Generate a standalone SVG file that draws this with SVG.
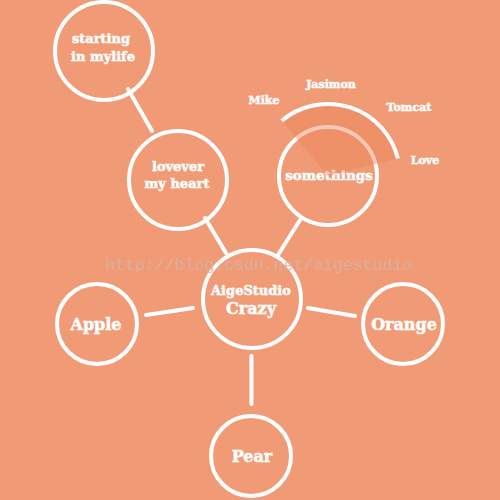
<svg xmlns="http://www.w3.org/2000/svg" width="500" height="500" viewBox="0 0 500 500">
<style>
.node{fill:none;stroke:#fff;stroke-width:4}
.lbl{fill:#fff;stroke:#fff;stroke-width:0.5;font-family:"DejaVu Serif","Liberation Serif",serif;font-weight:bold;text-anchor:middle}
.c line{stroke:#fff;stroke-width:4;stroke-linecap:round}
.small{font-size:11px}
.mid{font-size:13px}
.big{font-size:16px}
</style>
<rect width="500" height="500" fill="#F19B76"/>
<g class="c" id="connectors">
<line x1="128" y1="89" x2="152" y2="131"/>
<line x1="205" y1="218" x2="226" y2="253"/>
<line x1="300" y1="220" x2="278" y2="255"/>
<line x1="146" y1="315" x2="193" y2="308"/>
<line x1="308" y1="308" x2="355" y2="316"/>
<line x1="251.5" y1="356" x2="251.5" y2="404"/>
</g>
<g id="starting"><circle class="node" cx="104" cy="51" r="49"/><text class="lbl mid" x="101" y="43">starting</text><text class="lbl mid" x="103" y="61">in mylife</text></g>
<g id="lovever"><circle class="node" cx="178" cy="180" r="49"/><text class="lbl mid" x="178" y="171">lovever</text><text class="lbl mid" x="177" y="188">my heart</text></g>
<g id="somethings"><circle class="node" cx="328" cy="176" r="49"/><text class="lbl" style="font-size:13.5px" x="329" y="180">somethings</text></g>
<g id="arc">
<path d="M328,176 L281.7,120.8 A72,72 0 0 1 397.9,158.6 Z" fill="#EA845C" opacity="0.45"/>
<path d="M281.7,120.8 A72,72 0 0 1 397.9,158.6" fill="none" stroke="#fff" stroke-width="4"/>
<text class="lbl small" x="264" y="104">Mike</text>
<text class="lbl small" x="331" y="88">Jasimon</text>
<text class="lbl small" x="409" y="111">Tomcat</text>
<text class="lbl small" x="425" y="164">Love</text>
</g>
<g id="center"><circle class="node" cx="252" cy="299" r="49"/><text class="lbl mid" x="251" y="295">AigeStudio</text><text class="lbl big" x="251" y="314">Crazy</text></g>
<g id="apple"><circle class="node" cx="97" cy="324" r="40"/><text class="lbl big" x="96" y="330">Apple</text></g>
<g id="orange"><circle class="node" cx="403" cy="324" r="40"/><text class="lbl big" x="404" y="330">Orange</text></g>
<g id="pear"><circle class="node" cx="251" cy="456" r="40"/><text class="lbl big" x="252" y="462">Pear</text></g>
<text x="259" y="270" font-family="Liberation Mono,monospace" font-size="16.5" fill="#D6B2A2" opacity="0.85" text-anchor="middle">http://blog.csdn.net/aigestudio</text>
</svg>
